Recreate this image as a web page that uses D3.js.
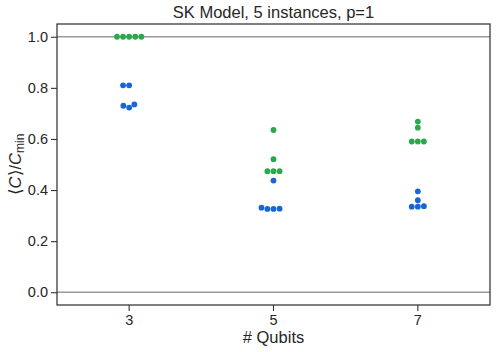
<!DOCTYPE html>
<html>
<head>
<meta charset="utf-8">
<script src="https://cdn.jsdelivr.net/npm/d3@7"></script>
<style>
  body { margin: 0; background: #fff; }
  text { font-family: "Liberation Sans", Arial, sans-serif; fill: #262626; }
</style>
</head>
<body>
<svg id="chart" width="496" height="352"></svg>
<script>
// Categories (# qubits) and the two series per category
const qubits = ['3', '5', '7'];
const greenVals = [
  [1.0, 1.0, 1.0, 1.0, 1.0],
  [0.635, 0.521, 0.474, 0.474, 0.474],
  [0.668, 0.644, 0.59, 0.59, 0.59]
];
const blueVals = [
  [0.81, 0.81, 0.735, 0.73, 0.723],
  [0.437, 0.331, 0.327, 0.326, 0.326],
  [0.395, 0.36, 0.337, 0.335, 0.335]
];
const yTicks = [0, 0.2, 0.4, 0.6, 0.8, 1.0];
const refLines = [0, 1];

const GREEN = '#2ba84a', BLUE = '#1666d6';
const margin = { top: 24, right: 6, bottom: 47, left: 57 };
const width = 496, height = 352;

const svg = d3.select('#chart');

const x = d3.scaleBand()
  .domain(qubits)
  .range([margin.left, width - margin.right]);
const y = d3.scaleLinear()
  .domain([-0.05, 1.05])
  .range([height - margin.bottom, margin.top]);

// horizontal reference lines
svg.selectAll('.ref')
  .data(refLines)
  .enter()
  .append('line')
  .attr('x1', margin.left).attr('x2', width - margin.right)
  .attr('y1', d => y(d)).attr('y2', d => y(d))
  .attr('stroke', '#999').attr('stroke-width', 1.5);

// collect points and lay out a beeswarm per category (seaborn-like)
const r = 2.9, diam = 5.8;
let points = [];
qubits.forEach((q, i) => {
  const pts = [];
  greenVals[i].forEach(v => pts.push({ q, v, color: GREEN }));
  blueVals[i].forEach(v => pts.push({ q, v, color: BLUE }));
  const cx = x(q) + x.bandwidth() / 2;
  pts.forEach(p => { p.py = y(p.v); });
  pts.sort((a, b) => a.v - b.v);
  const placed = [];
  pts.forEach(p => {
    const neighbors = placed.filter(o => Math.abs(o.py - p.py) < diam);
    const cands = [cx];
    neighbors.forEach(o => {
      const dx = Math.sqrt(diam * diam - (o.py - p.py) ** 2) * 1.05;
      cands.push(o.px - dx, o.px + dx);
    });
    cands.sort((a, b) => Math.abs(a - cx) - Math.abs(b - cx));
    for (const c of cands) {
      const ok = neighbors.every(o => Math.hypot(o.px - c, o.py - p.py) >= diam * 0.999);
      if (ok) { p.px = c; break; }
    }
    if (p.px === undefined) p.px = cx;
    placed.push(p);
  });
  points = points.concat(placed);
});

svg.selectAll('.dot')
  .data(points)
  .enter()
  .append('circle')
  .attr('cx', d => d.px)
  .attr('cy', d => d.py)
  .attr('r', r)
  .attr('fill', d => d.color);

// axes
const yAxis = d3.axisLeft(y).tickValues(yTicks).tickFormat(d3.format('.1f')).tickSize(6).tickPadding(3);
const gy = svg.append('g').attr('transform', `translate(${margin.left},0)`).call(yAxis);
const xAxis = d3.axisBottom(x).tickSize(6).tickPadding(4);
const gx = svg.append('g').attr('transform', `translate(0,${height - margin.bottom})`).call(xAxis);
[gx, gy].forEach(g => {
  g.select('.domain').remove();
  g.selectAll('.tick line').attr('stroke', '#333').attr('stroke-width', 1.1);
  g.selectAll('.tick text').attr('font-size', 14.5).attr('fill', '#262626')
    .attr('font-family', '"Liberation Sans", Arial, sans-serif');
});

// frame
svg.append('rect')
  .attr('x', margin.left).attr('y', margin.top)
  .attr('width', width - margin.left - margin.right)
  .attr('height', height - margin.top - margin.bottom)
  .attr('fill', 'none').attr('stroke', '#333').attr('stroke-width', 1.25);

// title and labels
svg.append('text')
  .attr('x', margin.left + (width - margin.left - margin.right) / 2)
  .attr('y', 18)
  .attr('text-anchor', 'middle')
  .attr('font-size', 16.5)
  .text('SK Model, 5 instances, p=1');

svg.append('text')
  .attr('x', margin.left + (width - margin.left - margin.right) / 2)
  .attr('y', 343)
  .attr('text-anchor', 'middle')
  .attr('font-size', 16.5)
  .text('# Qubits');

const yl = svg.append('text')
  .attr('transform', `translate(21,${y(0.5)}) rotate(-90)`)
  .attr('text-anchor', 'middle')
  .attr('font-size', 16.5);
yl.append('tspan').text('\u27E8');
yl.append('tspan').attr('font-style', 'italic').text('C');
yl.append('tspan').text('\u27E9/');
yl.append('tspan').attr('font-style', 'italic').text('C');
yl.append('tspan').attr('font-size', 12).attr('dy', 3).text('min');
</script>
</body>
</html>
